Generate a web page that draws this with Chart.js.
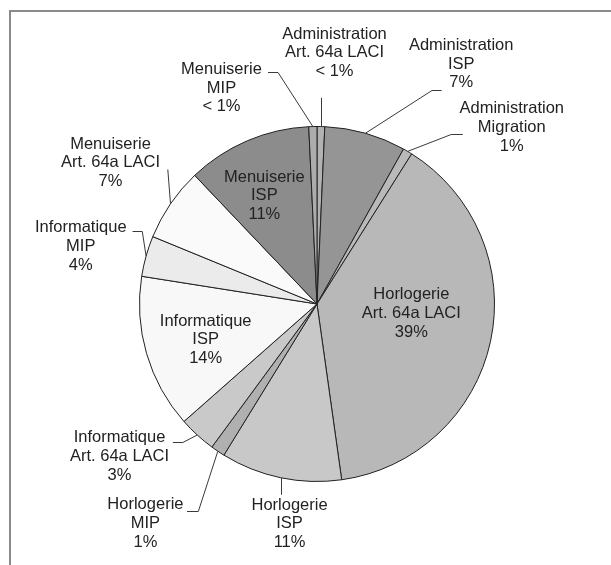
<!DOCTYPE html>
<html>
<head>
<meta charset="utf-8">
<script src="https://cdn.jsdelivr.net/npm/chart.js@4.4.1/dist/chart.umd.min.js"></script>
<style>
  html, body { margin: 0; padding: 0; background: #ffffff; }
  canvas { display: block; }
</style>
</head>
<body>
<canvas id="chart" width="611" height="565"></canvas>
<script>
// Sectors and measures, clockwise from 12 o'clock
const sectors = ['Administration', 'Administration', 'Administration',
                 'Horlogerie', 'Horlogerie', 'Horlogerie',
                 'Informatique', 'Informatique', 'Informatique',
                 'Menuiserie', 'Menuiserie', 'Menuiserie'];
const measures = ['Art. 64a LACI', 'ISP', 'Migration',
                  'Art. 64a LACI', 'ISP', 'MIP',
                  'Art. 64a LACI', 'ISP', 'MIP',
                  'Art. 64a LACI', 'ISP', 'MIP'];
// share of participants, in percent
const shares = [0.7, 7.4, 0.85, 38.8, 11.0, 1.3, 3.4, 14.0, 3.7, 6.7, 11.35, 0.74];
const shareLabels = ['< 1%', '7%', '1%', '39%', '11%', '1%', '3%', '14%', '4%', '7%', '11%', '< 1%'];

const sliceColors = ['#b2b2b2', '#959595', '#b9b9b9', '#b8b8b8', '#c8c8c8', '#b0b0b0',
                     '#c9c9c9', '#f8f8f8', '#ebebeb', '#fafafa', '#8c8c8c', '#acacac'];

// Label centre relative to the slice's outer mid point, and the leader line shape
const labelPlacement = [
  { dx: 13.6,  dy: -73.7, leader: { kind: 'v', to: 45 } },
  { dx: 95.7,  dy: -69.0, leader: { kind: 'h', ax: -19.5, ay: 25.6, elbow: -9.7 } },
  { dx: 104.1, dy: -24.1, leader: { kind: 'h', ax: -49.0, ay: 6.5,  elbow: -11.6 } },
  { dx: -79.2, dy: -27.8, leader: null },
  { dx: 8.9,   dy: 46.0,  leader: { kind: 'v', to: -29 } },
  { dx: -72.4, dy: 72.4,  leader: { kind: 'h', ax: 41.6, ay: -12.6, elbow: 11.3 } },
  { dx: -77.7, dy: 21.3,  leader: { kind: 'h', ax: 53.3, ay: -14.2, elbow: 10 } },
  { dx: 59.1,  dy: -13.7, leader: null },
  { dx: -65.3, dy: -9.6,  leader: { kind: 'h', ax: 51.8, ay: -15.1, elbow: 9.7 } },
  { dx: -60.0, dy: -41.0, leader: { kind: 'h', ax: 57.3, ay: 6.5,  elbow: 0 } },
  { dx: 17.0,  dy: 55.1,  leader: null },
  { dx: -91.4, dy: -38.5, leader: { kind: 'h', ax: 46.6, ay: -16.1, elbow: 10 } }
];

const LINE_GAP = 18.7;

const framePlugin = {
  id: 'frame',
  beforeDraw(chart) {
    const ctx = chart.ctx;
    ctx.save();
    ctx.fillStyle = '#ffffff';
    ctx.fillRect(0, 0, chart.width, chart.height);
    ctx.fillStyle = '#8a8a8a';
    ctx.fillRect(9, 10, chart.width - 9, 2);
    ctx.fillRect(9, 10, 2, chart.height - 10);
    ctx.restore();
  }
};

const sliceLabelPlugin = {
  id: 'sliceLabels',
  afterDatasetsDraw(chart) {
    const ctx = chart.ctx;
    const meta = chart.getDatasetMeta(0);
    ctx.save();
    ctx.font = '16.5px "Liberation Sans", Arial, sans-serif';
    ctx.textAlign = 'center';
    ctx.textBaseline = 'middle';
    meta.data.forEach((arc, i) => {
      const p = arc.getProps(['x', 'y', 'startAngle', 'endAngle', 'outerRadius'], true);
      const mid = (p.startAngle + p.endAngle) / 2;
      const ex = p.x + p.outerRadius * Math.cos(mid);
      const ey = p.y + p.outerRadius * Math.sin(mid);
      const place = labelPlacement[i];
      const lx = ex + place.dx;
      const ly = ey + place.dy;

      const ld = place.leader;
      if (ld) {
        ctx.strokeStyle = '#3a3a3a';
        ctx.lineWidth = 1;
        ctx.beginPath();
        if (ld.kind === 'v') {
          ctx.moveTo(Math.round(ex) + 0.5, ey);
          ctx.lineTo(Math.round(ex) + 0.5, ly + ld.to);
        } else {
          const ax = lx + ld.ax;
          const ay = Math.round(ly + ld.ay) + 0.5;
          ctx.moveTo(ax, ay);
          ctx.lineTo(ax + ld.elbow, ay);
          ctx.lineTo(ex, ey);
        }
        ctx.stroke();
      }

      ctx.fillStyle = '#222222';
      const lines = [sectors[i], measures[i], shareLabels[i]];
      lines.forEach((t, k) => ctx.fillText(t, lx, ly + (k - 1) * LINE_GAP));
    });
    ctx.restore();
  }
};

new Chart(document.getElementById('chart'), {
  type: 'pie',
  data: {
    labels: sectors.map((s, i) => s + ' ' + measures[i]),
    datasets: [{
      data: shares,
      backgroundColor: sliceColors,
      borderColor: '#222222',
      borderWidth: 1
    }]
  },
  options: {
    responsive: false,
    devicePixelRatio: 1,
    animation: false,
    radius: 177.5,
    layout: { padding: { left: 128, right: 105, top: 120, bottom: 77 } },
    plugins: {
      legend: { display: false },
      tooltip: { enabled: false }
    }
  },
  plugins: [framePlugin, sliceLabelPlugin]
});
</script>
</body>
</html>
